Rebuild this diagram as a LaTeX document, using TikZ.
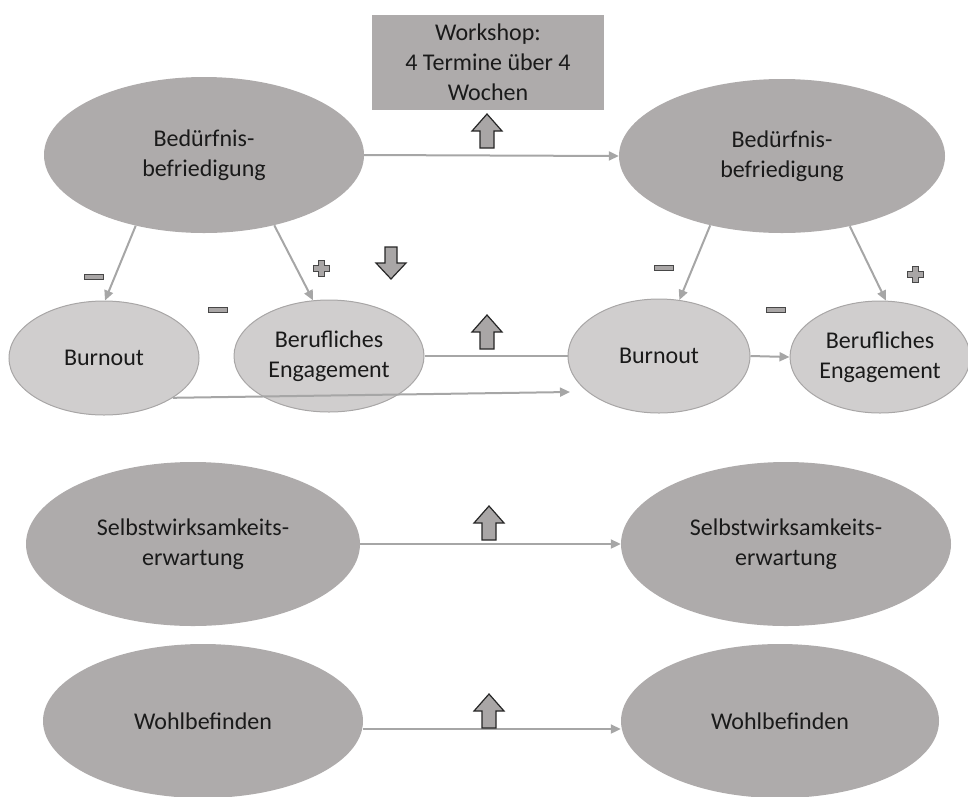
\documentclass[tikz,border=0pt]{standalone}
\usepackage{fontspec}
\setmainfont{Carlito}
\usetikzlibrary{arrows.meta,shapes.geometric}
\definecolor{darkfill}{HTML}{AEABAB}
\definecolor{lightfill}{HTML}{D0CECE}
\definecolor{lightedge}{HTML}{A8A6A6}
\definecolor{linegray}{HTML}{A6A6A6}
\definecolor{arrowfill}{HTML}{A9A6A6}
\definecolor{arrowedge}{HTML}{262626}
\definecolor{txt}{HTML}{1A1A1A}
\tikzset{
  bigtext/.style={font=\fontsize{24}{30}\selectfont, text=txt, align=center},
  darkell/.style={ellipse, fill=darkfill, inner sep=0pt, bigtext},
  lightell/.style={ellipse, fill=lightfill, draw=lightedge, line width=1pt, inner sep=0pt, bigtext},
  conn/.style={draw=linegray, line width=2pt},
  connarr/.style={conn, -{Triangle[length=10pt,width=9pt]}},
  blockarrow/.style={fill=arrowfill, draw=arrowedge, line width=1.2pt, line join=miter},
  signshape/.style={fill=arrowfill, draw=arrowedge!85, line width=1pt},
  uparrowpic/.pic={\draw[blockarrow] (-7,17)--(-7,0)--(-15,0)--(0,-17)--(15,0)--(7,0)--(7,17)--cycle;},
  downarrowpic/.pic={\draw[blockarrow] (-6,-16)--(-6,0)--(-15,0)--(0,16)--(15,0)--(6,0)--(6,-16)--cycle;},
  pluspic/.pic={\draw[signshape] (-3,-8)--(3,-8)--(3,-3)--(8,-3)--(8,3)--(3,3)--(3,8)--(-3,8)--(-3,3)--(-8,3)--(-8,-3)--(-3,-3)--cycle;},
  minuspic/.pic={\draw[signshape] (-9.5,-2.7) rectangle (9.5,2.7);}
}
\begin{document}
\begin{tikzpicture}[x=1pt,y=-1pt]
\useasboundingbox (0,0) rectangle (968,796);

% workshop box
\node[fill=darkfill, minimum width=232pt, minimum height=95pt, inner sep=0pt, bigtext] (ws) at (488,62.5) {Workshop:\\4 Termine über 4\\Wochen};

% top row
\node[darkell, minimum width=320pt, minimum height=156pt] (bedL) at (204,155) {Bedürfnis-\\befriedigung};
\node[darkell, minimum width=326pt, minimum height=154pt] (bedR) at (782,156) {Bedürfnis-\\befriedigung};

% second row
\node[lightell, minimum width=190pt, minimum height=114pt] (burnL) at (104,358) {Burnout};
\node[lightell, minimum width=190pt, minimum height=112pt] (engL) at (329,356) {Berufliches\\Engagement};
\node[lightell, minimum width=182pt, minimum height=114pt] (burnR) at (659,356) {Burnout};
\node[lightell, minimum width=180pt, minimum height=112pt] (engR) at (880,357) {Berufliches\\Engagement};

% third and fourth rows
\node[darkell, minimum width=334pt, minimum height=164pt] (selbL) at (193,544) {Selbstwirksamkeits-\\erwartung};
\node[darkell, minimum width=330pt, minimum height=164pt] (selbR) at (786,544) {Selbstwirksamkeits-\\erwartung};
\node[darkell, minimum width=320pt, minimum height=154pt] (wohlL) at (203,721) {Wohlbefinden};
\node[darkell, minimum width=318pt, minimum height=154pt] (wohlR) at (780,721) {Wohlbefinden};

\coordinate (bEnd) at (570,392);

% connectors
\draw[connarr] (bedL.east) -- (bedR.west);
\draw[connarr] (bedL.226) -- (burnL.89);
\draw[connarr] (bedL.315) -- (engL.106);
\draw[connarr] (bedR.224) -- (burnR.70);
\draw[connarr] (bedR.314) -- (engR.84);
\draw[conn] (engL.east) -- (burnR.west);
\draw[connarr] (burnL.330) -- (bEnd);
\draw[connarr] (burnR.east) -- (engR.west);
\draw[connarr] (selbL.east) -- (selbR.west);
\draw[connarr] ([yshift=-8pt]wohlL.east) -- ([yshift=-8pt]wohlR.west);

% block arrows
\pic at (487,131) {uparrowpic};
\pic at (487,332) {uparrowpic};
\pic at (489,523) {uparrowpic};
\pic at (489,711) {uparrowpic};
\pic at (391,263) {downarrowpic};

% signs
\pic at (94,277) {minuspic};
\pic at (321,268) {pluspic};
\pic at (218,310) {minuspic};
\pic at (664,268) {minuspic};
\pic at (776,310) {minuspic};
\pic at (915,274) {pluspic};
\end{tikzpicture}
\end{document}
